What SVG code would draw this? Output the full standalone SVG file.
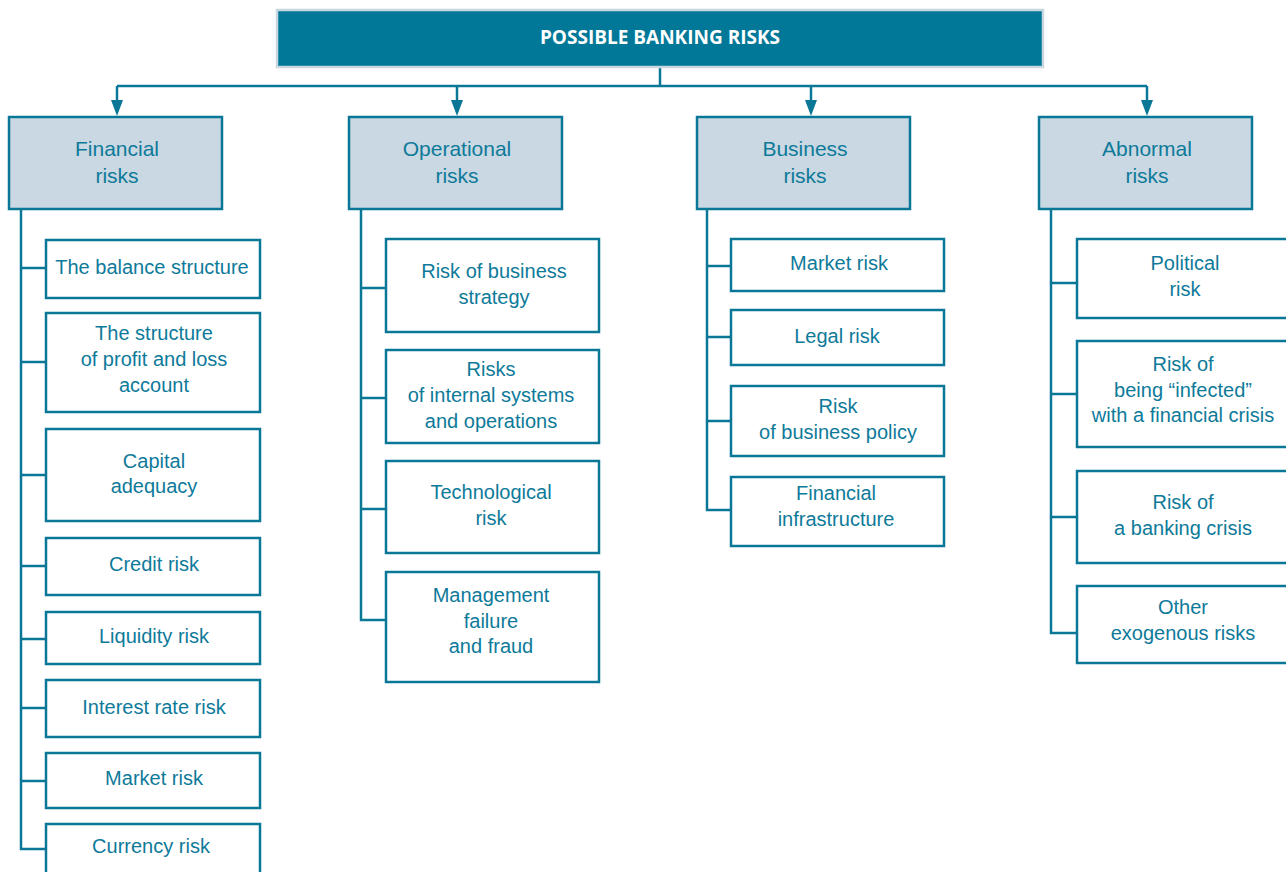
<svg xmlns="http://www.w3.org/2000/svg" width="1286" height="872" viewBox="0 0 1286 872">
<style>
.hdr{fill:#017898;stroke:#c8d7e0;stroke-width:2.5}
.hdrt{fill:#ffffff;font-family:"Open Sans","DejaVu Sans",sans-serif;font-weight:bold;font-size:19px;text-anchor:middle}
.cat{fill:#c9d8e2;stroke:#0b7797;stroke-width:2.5}
.box{fill:#ffffff;stroke:#0b7797;stroke-width:2.5}
.ct{fill:#0e7a9a;font-family:"Liberation Sans",Arial,sans-serif;font-size:21px;text-anchor:middle}
.t{fill:#0e7a9a;font-family:"Liberation Sans",Arial,sans-serif;font-size:20px;text-anchor:middle}
.ln{fill:none;stroke:#0b7797;stroke-width:2.5}
.ah{fill:#0b7797}
</style>
<g id="connectors">
<path class="ln" d="M660,67 V86 M117,86 H1147"/>
<path class="ln" d="M117,86 V101 M457,86 V101 M811,86 V101 M1147,86 V101"/>
<path class="ah" d="M111,100 L123,100 L117,116 Z M451,100 L463,100 L457,116 Z M805,100 L817,100 L811,116 Z M1141,100 L1153,100 L1147,116 Z"/>
<path class="ln" d="M21,209 V849 H46 M21,268 H46 M21,362 H46 M21,475 H46 M21,566 H46 M21,639 H46 M21,708 H46 M21,781 H46"/>
<path class="ln" d="M361,209 V620 H386 M361,288 H386 M361,398 H386 M361,509 H386"/>
<path class="ln" d="M707,209 V510 H731 M707,266 H731 M707,337 H731 M707,421 H731"/>
<path class="ln" d="M1051,209 V633 H1077 M1051,283 H1077 M1051,394 H1077 M1051,517 H1077"/>
</g>
<g id="root">
<rect class="hdr" x="277" y="10" width="766" height="57"/>
<text class="hdrt" x="660" y="44">POSSIBLE BANKING RISKS</text>
</g>
<g id="financial">
<rect class="cat" x="9" y="117" width="213" height="92"/>
<text class="ct" x="117" y="156">Financial</text>
<text class="ct" x="117" y="183">risks</text>
</g>
<g id="operational">
<rect class="cat" x="349" y="117" width="213" height="92"/>
<text class="ct" x="457" y="156">Operational</text>
<text class="ct" x="457" y="183">risks</text>
</g>
<g id="business">
<rect class="cat" x="697" y="117" width="213" height="92"/>
<text class="ct" x="805" y="156">Business</text>
<text class="ct" x="805" y="183">risks</text>
</g>
<g id="abnormal">
<rect class="cat" x="1039" y="117" width="213" height="92"/>
<text class="ct" x="1147" y="156">Abnormal</text>
<text class="ct" x="1147" y="183">risks</text>
</g>
<g id="f1"><rect class="box" x="46" y="240" width="214" height="58"/><text class="t" x="152" y="274">The balance structure</text></g>
<g id="f2"><rect class="box" x="46" y="313" width="214" height="99"/><text class="t" x="154" y="340">The structure</text><text class="t" x="154" y="366">of profit and loss</text><text class="t" x="154" y="392">account</text></g>
<g id="f3"><rect class="box" x="46" y="429" width="214" height="92"/><text class="t" x="154" y="468">Capital</text><text class="t" x="154" y="493">adequacy</text></g>
<g id="f4"><rect class="box" x="46" y="538" width="214" height="57"/><text class="t" x="154" y="571">Credit risk</text></g>
<g id="f5"><rect class="box" x="46" y="612" width="214" height="52"/><text class="t" x="154" y="643">Liquidity risk</text></g>
<g id="f6"><rect class="box" x="46" y="680" width="214" height="57"/><text class="t" x="154" y="714">Interest rate risk</text></g>
<g id="f7"><rect class="box" x="46" y="753" width="214" height="55"/><text class="t" x="154" y="785">Market risk</text></g>
<g id="f8"><rect class="box" x="46" y="824" width="214" height="60"/><text class="t" x="151" y="853">Currency risk</text></g>
<g id="o1"><rect class="box" x="386" y="239" width="213" height="93"/><text class="t" x="494" y="278">Risk of business</text><text class="t" x="494" y="304">strategy</text></g>
<g id="o2"><rect class="box" x="386" y="350" width="213" height="93"/><text class="t" x="491" y="376">Risks</text><text class="t" x="491" y="402">of internal systems</text><text class="t" x="491" y="428">and operations</text></g>
<g id="o3"><rect class="box" x="386" y="461" width="213" height="92"/><text class="t" x="491" y="499">Technological</text><text class="t" x="491" y="525">risk</text></g>
<g id="o4"><rect class="box" x="386" y="572" width="213" height="110"/><text class="t" x="491" y="602">Management</text><text class="t" x="491" y="628">failure</text><text class="t" x="491" y="653">and fraud</text></g>
<g id="b1"><rect class="box" x="731" y="239" width="213" height="52"/><text class="t" x="839" y="270">Market risk</text></g>
<g id="b2"><rect class="box" x="731" y="310" width="213" height="55"/><text class="t" x="837" y="343">Legal risk</text></g>
<g id="b3"><rect class="box" x="731" y="386" width="213" height="70"/><text class="t" x="838" y="413">Risk</text><text class="t" x="838" y="439">of business policy</text></g>
<g id="b4"><rect class="box" x="731" y="477" width="213" height="69"/><text class="t" x="836" y="500">Financial</text><text class="t" x="836" y="526">infrastructure</text></g>
<g id="a1"><rect class="box" x="1077" y="239" width="220" height="79"/><text class="t" x="1185" y="270">Political</text><text class="t" x="1185" y="296">risk</text></g>
<g id="a2"><rect class="box" x="1077" y="341" width="220" height="106"/><text class="t" x="1183" y="371">Risk of</text><text class="t" x="1183" y="397">being “infected”</text><text class="t" x="1183" y="422">with a financial crisis</text></g>
<g id="a3"><rect class="box" x="1077" y="471" width="220" height="92"/><text class="t" x="1183" y="509">Risk of</text><text class="t" x="1183" y="535">a banking crisis</text></g>
<g id="a4"><rect class="box" x="1077" y="586" width="220" height="77"/><text class="t" x="1183" y="614">Other</text><text class="t" x="1183" y="640">exogenous risks</text></g>
</svg>
